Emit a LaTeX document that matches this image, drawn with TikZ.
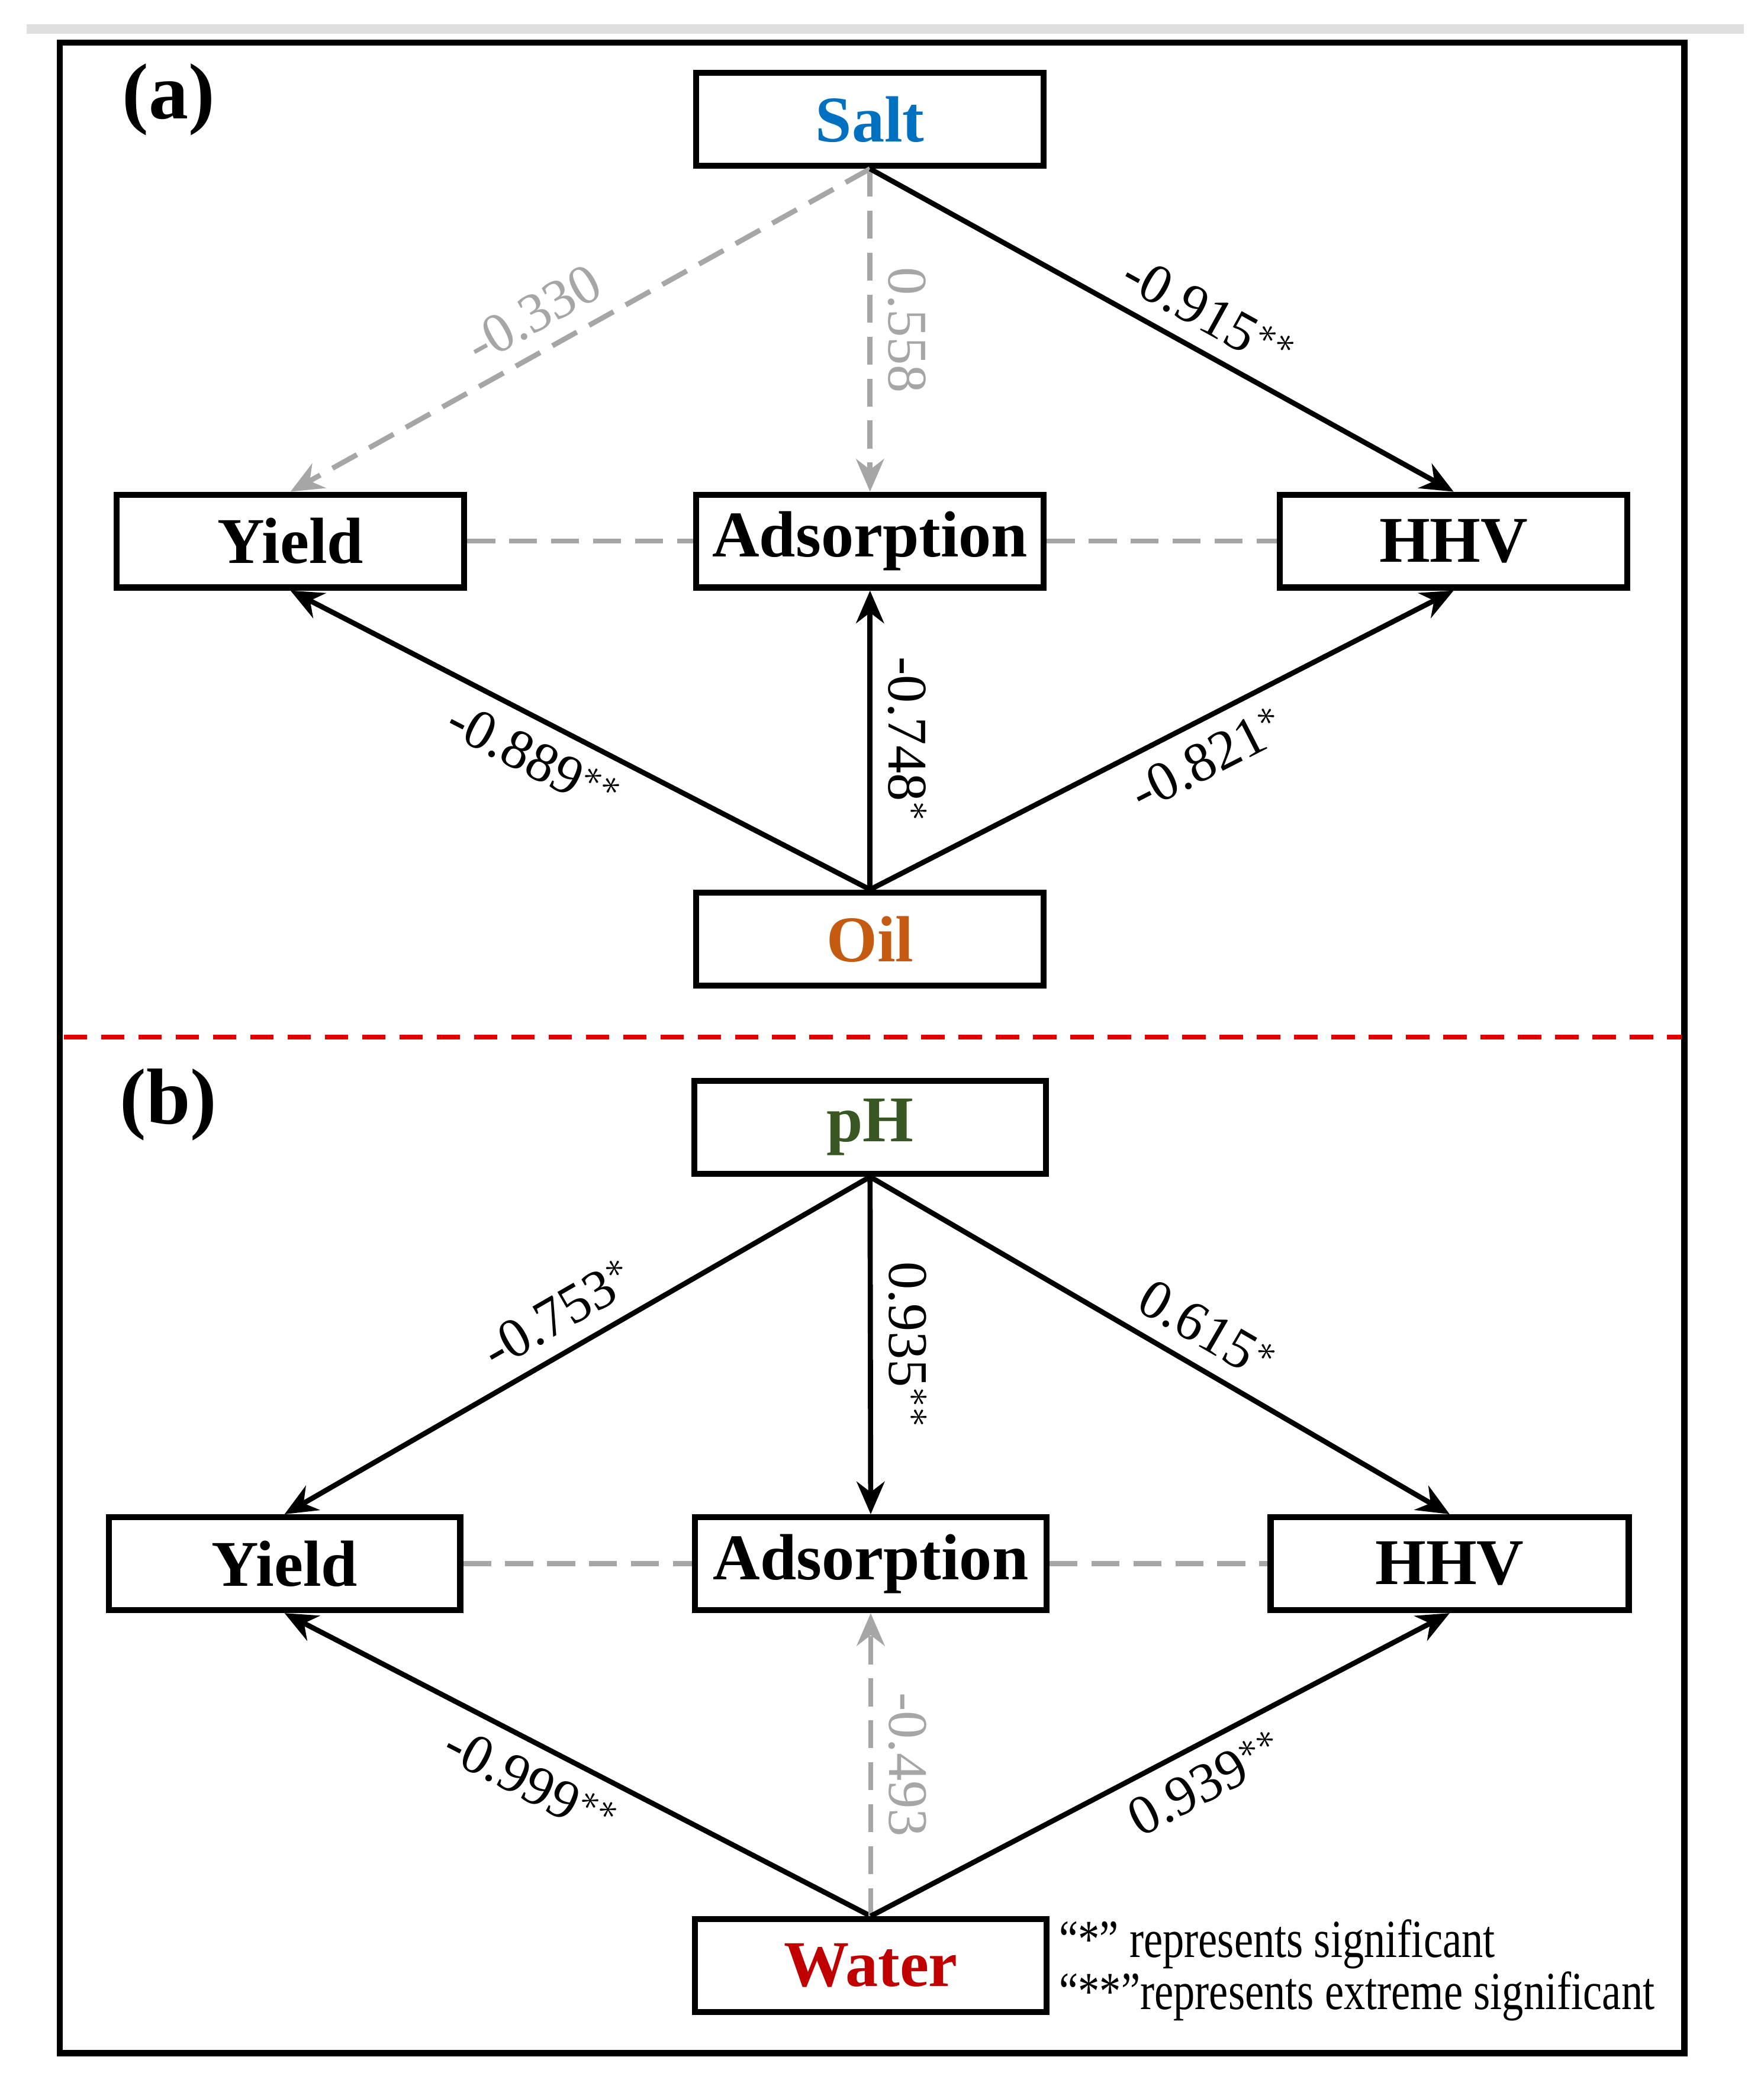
\documentclass[tikz,border=0pt]{standalone}
\usepackage{fontspec}
\setmainfont{Liberation Serif}
\newfontfamily\narrowserif{Liberation Serif}[FakeStretch=0.8]
\usetikzlibrary{arrows.meta,positioning}
\definecolor{saltblue}{HTML}{0070C0}
\definecolor{oilorange}{HTML}{C55A11}
\definecolor{phgreen}{HTML}{385723}
\definecolor{waterred}{HTML}{C00000}
\definecolor{weakgray}{HTML}{A6A6A6}

\begin{document}
\begin{tikzpicture}[
    >={Stealth[length=7pt,width=6pt]},
    box/.style={
        rectangle,
        minimum width=2.62cm,
        minimum height=0.70cm,
        draw,
        line width=1.3pt,
        font=\fontsize{14}{16}\selectfont\bfseries
    },
    strong/.style={->, line width=1.1pt},
    weak/.style={->, weakgray, line width=1.1pt, dash pattern=on 6pt off 3pt},
    link/.style={weakgray, line width=1.1pt, dash pattern=on 6pt off 3pt},
    coef/.style={font=\fontsize{12}{14}\selectfont, sloped},
    panel/.style={font=\fontsize{17}{19}\selectfont\bfseries}
]
    \useasboundingbox (0,0) rectangle (13.3,15.63);

    % Frame
    \draw[gray!25, line width=2pt] (0.2,15.41) -- (13.15,15.41);
    \draw[line width=1.3pt] (0.45,0.15) rectangle (12.70,15.31);

    % === PANEL (a) ===
    \node[panel] (lbla) at (1.27,14.88) {(a)};
    \node[box, text=saltblue] (salt) at (6.56,14.73) {Salt};
    \node[box] (yielda) at (2.19,11.55) {Yield};
    \node[box] (adsa) at (6.56,11.55) {Adsorption};
    \node[box] (hhva) at (10.96,11.55) {HHV};
    \node[box, text=oilorange] (oil) at (6.56,8.55) {Oil};

    \draw[weak] (salt.south) -- node[coef, above, pos=0.55] {-0.330} (yielda.north);
    \draw[weak] (salt.south) -- node[coef, above, pos=0.5] {0.558} (adsa.north);
    \draw[strong] (salt.south) -- node[coef, above, pos=0.55] {-0.915$^{**}$} (hhva.north);
    \draw[link] (yielda) -- (adsa);
    \draw[link] (adsa) -- (hhva);
    \draw[strong] (oil.north) -- node[coef, below, pos=0.55] {-0.889$^{**}$} (yielda.south);
    \draw[strong] (oil.north) -- node[pos=0.5, anchor=south, rotate=-90, font=\fontsize{12}{14}\selectfont] {-0.748$^{*}$} (adsa.south);
    \draw[strong] (oil.north) -- node[coef, below, pos=0.55] {-0.821$^{*}$} (hhva.south);

    % Divider
    \draw[red!90!black, line width=1.1pt, dash pattern=on 5pt off 3pt] (0.48,7.81) -- (12.68,7.81);

    % === PANEL (b) ===
    \node[panel] (lblb) at (1.27,7.30) {(b)};
    \node[box, minimum width=2.65cm, text=phgreen] (ph) at (6.56,7.13) {pH};
    \node[box, minimum width=2.65cm] (yieldb) at (2.145,3.84) {Yield};
    \node[box, minimum width=2.65cm] (adsb) at (6.565,3.84) {Adsorption};
    \node[box, minimum width=2.70cm] (hhvb) at (10.93,3.84) {HHV};
    \node[box, minimum width=2.65cm, text=waterred] (water) at (6.565,0.81) {Water};

    \draw[strong] (ph.south) -- node[coef, above, pos=0.5] {-0.753$^{*}$} (yieldb.north);
    \draw[strong] (ph.south) -- node[coef, above, pos=0.5] {0.935$^{**}$} (adsb.north);
    \draw[strong] (ph.south) -- node[coef, above, pos=0.55] {0.615$^{*}$} (hhvb.north);
    \draw[link] (yieldb) -- (adsb);
    \draw[link] (adsb) -- (hhvb);
    \draw[strong] (water.north) -- node[coef, below, pos=0.55] {-0.999$^{**}$} (yieldb.south);
    \draw[weak] (water.north) -- node[pos=0.5, anchor=south, rotate=-90, font=\fontsize{12}{14}\selectfont, text=weakgray] {-0.493} (adsb.south);
    \draw[strong] (water.north) -- node[coef, below, pos=0.55] {0.939$^{**}$} (hhvb.south);

    % Legend
    \node[anchor=west, font=\narrowserif\fontsize{11.5}{14}\selectfont, inner sep=0pt] (leg1) at (7.98,0.97) {“*” represents significant};
    \node[anchor=west, font=\narrowserif\fontsize{11.5}{14}\selectfont, inner sep=0pt] (leg2) at (7.98,0.58) {“**”represents extreme significant};
\end{tikzpicture}
\end{document}
